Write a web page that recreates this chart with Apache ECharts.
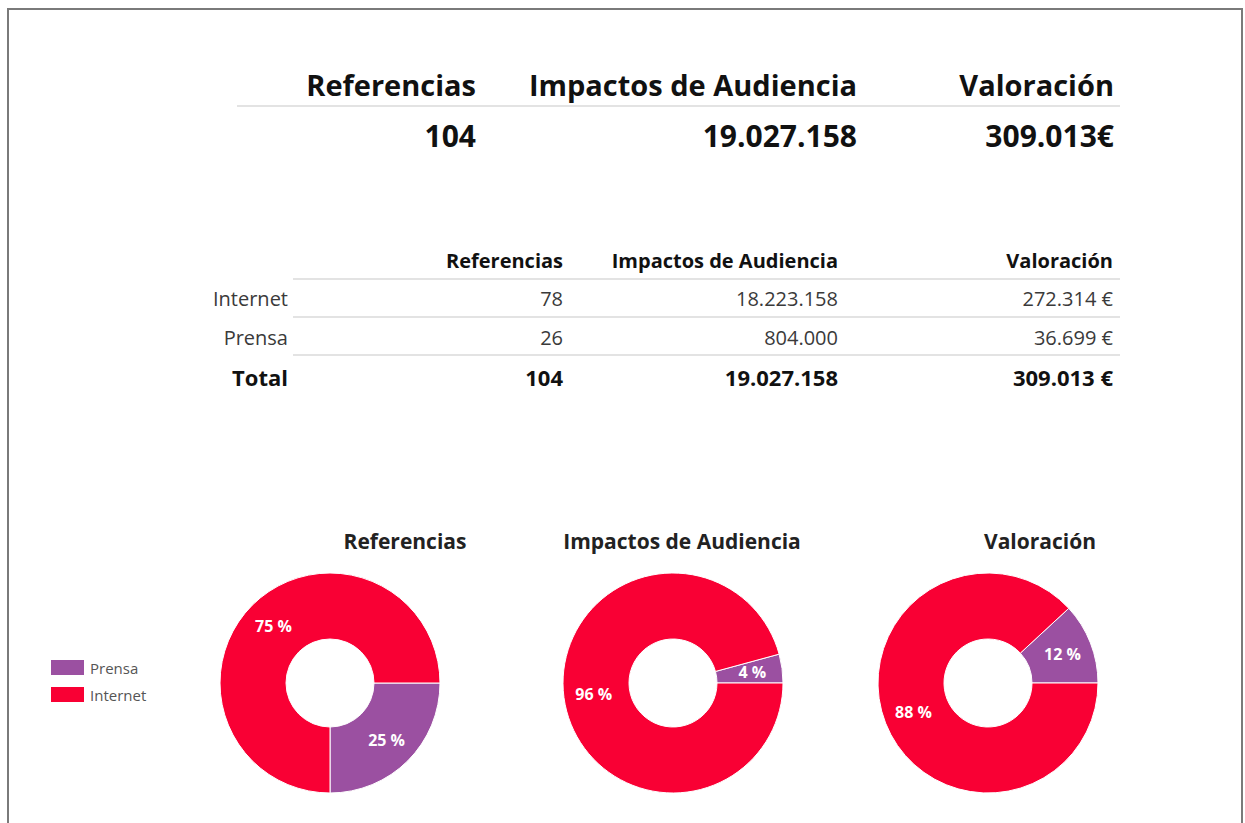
<!DOCTYPE html>
<html>
<head>
<meta charset="utf-8">
<script src="https://cdn.jsdelivr.net/npm/echarts@6/dist/echarts.min.js"></script>
<style>
html,body{margin:0;padding:0;background:#fff;}
#chart{width:1245px;height:823px;}
</style>
</head>
<body>
<div id="chart"></div>
<script>
// ---- data ----
const kpiHeaders = ['Referencias', 'Impactos de Audiencia', 'Valoración'];
const rowLabels = ['Internet', 'Prensa'];
const referencias = [78, 26];
const impactos = [18223158, 804000];
const valoracion = [272314, 36699];
const totalLabel = 'Total';
const pieTitles = ['Referencias', 'Impactos de Audiencia', 'Valoración'];
const legendNames = ['Prensa', 'Internet'];

// ---- helpers ----
function fmt(n) { return String(Math.round(n)).replace(/\B(?=(\d{3})+(?!\d))/g, '.'); }
const sum = a => a.reduce((s, v) => s + v, 0);
const totRef = sum(referencias), totImp = sum(impactos), totVal = sum(valoracion);

const FONT = '"Open Sans", "Noto Sans", sans-serif';
const RED = '#F90034';
const PURPLE = '#9B50A1';

const g = [];
// frame
g.push({type: 'rect', shape: {x: 8, y: 9, width: 1234, height: 900}, style: {fill: '#fff', stroke: '#7a7a7a', lineWidth: 2}, z: -10});

function txt(x, y, s, size, weight, color, align) {
  g.push({type: 'text', x: x, y: y, style: {text: s, fontSize: size, fontWeight: weight, fill: color, fontFamily: FONT, align: align || 'right', verticalAlign: 'middle'}});
}
function hline(x1, x2, y, color, w) {
  g.push({type: 'line', shape: {x1: x1, y1: y, x2: x2, y2: y}, style: {stroke: color, lineWidth: w}});
}

// KPI block
const kpiX = [476, 857, 1114];
const kpiVals = [fmt(totRef), fmt(totImp), fmt(totVal) + '€'];
kpiHeaders.forEach((h, i) => txt(kpiX[i], 84, h, 29, 'bold', '#111', 'right'));
hline(237, 1120, 106, '#e3e3e3', 2);
kpiVals.forEach((v, i) => txt(kpiX[i], 135, v, 30, 'bold', '#111', 'right'));

// table
const colX = [563, 838, 1113];
kpiHeaders.forEach((h, i) => txt(colX[i], 260, h, 20, 'bold', '#111', 'right'));
hline(293, 1120, 279, '#e3e3e3', 2);
const rowY = [298, 337];
rowLabels.forEach((r, j) => {
  txt(288, rowY[j], r, 20, 'normal', '#3a3a3a', 'right');
  txt(colX[0], rowY[j], fmt(referencias[j]), 20, 'normal', '#3a3a3a', 'right');
  txt(colX[1], rowY[j], fmt(impactos[j]), 20, 'normal', '#3a3a3a', 'right');
  txt(colX[2], rowY[j], fmt(valoracion[j]) + ' €', 20, 'normal', '#3a3a3a', 'right');
});
hline(293, 1120, 317, '#e3e3e3', 2);
hline(293, 1120, 355, '#e3e3e3', 2);
txt(288, 377, totalLabel, 22, 'bold', '#111', 'right');
txt(colX[0], 377, fmt(totRef), 22, 'bold', '#111', 'right');
txt(colX[1], 377, fmt(totImp), 22, 'bold', '#111', 'right');
txt(colX[2], 377, fmt(totVal) + ' €', 22, 'bold', '#111', 'right');

// pie titles
const titleX = [405, 682, 1040];
pieTitles.forEach((t, i) => txt(titleX[i], 541, t, 21, 'bold', '#222', 'center'));

// pies
const pieCenters = [[330, 683], [673, 683], [988, 683]];
const pieData = [referencias, impactos, valoracion];
const pieClockwise = [true, false, false];
const series = pieData.map((arr, i) => ({
  type: 'pie',
  center: pieCenters[i],
  radius: [44, 110],
  startAngle: 0,
  clockwise: pieClockwise[i],
  avoidLabelOverlap: false,
  silent: true,
  itemStyle: {borderColor: '#fff', borderWidth: 1},
  label: {
    show: true, position: 'inside', color: '#fff', fontWeight: 'bold', fontSize: 16, fontFamily: FONT,
    formatter: p => Math.round(p.percent) + ' %'
  },
  labelLine: {show: false},
  data: [
    {name: legendNames[0], value: arr[1], itemStyle: {color: PURPLE}},
    {name: legendNames[1], value: arr[0], itemStyle: {color: RED}}
  ]
}));

const chart = echarts.init(document.getElementById('chart'), null, {renderer: 'svg'});
chart.setOption({
  animation: false,
  backgroundColor: '#fff',
  legend: {
    orient: 'vertical', left: 49, top: 658, padding: 0, itemWidth: 35, itemHeight: 17, itemGap: 8,
    icon: 'rect', data: legendNames,
    textStyle: {color: '#555', fontSize: 15, fontFamily: FONT}
  },
  graphic: g,
  series: series
});
</script>
</body>
</html>
